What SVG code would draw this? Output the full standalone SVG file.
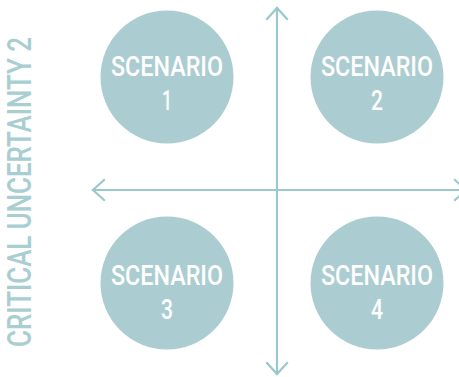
<svg xmlns="http://www.w3.org/2000/svg" width="459" height="377" viewBox="0 0 459 377">
<style>
.c{fill:#abcdd1}
.t{font-family:"Roboto","Liberation Sans",sans-serif;font-size:28px;fill:#ffffff;text-anchor:middle;font-weight:500}
.ax{stroke:#9ac8cc;stroke-width:2.2;fill:none;stroke-linecap:square}
.lab{font-family:"Roboto","Liberation Sans",sans-serif;font-size:33px;fill:#a9ced2;font-weight:500}
</style>
<rect width="459" height="377" fill="#ffffff"/>
<g id="connectors">
<line class="ax" x1="277" y1="8" x2="277" y2="374"/>
<line class="ax" x1="93" y1="190" x2="458" y2="190"/>
<polyline class="ax" points="267,19 277,8 287,19"/>
<polyline class="ax" points="267,363 277,374 287,363"/>
<polyline class="ax" points="104,180 93,190 104,200"/>
<polyline class="ax" points="455,180 466,190 455,200"/>
</g>
<g id="scenario1"><circle class="c" cx="167" cy="77" r="66.5"/><text class="t" x="167" y="76" textLength="112" lengthAdjust="spacingAndGlyphs">SCENARIO</text><text class="t" x="167" y="110" textLength="10" lengthAdjust="spacingAndGlyphs">1</text></g>
<g id="scenario2"><circle class="c" cx="377" cy="77" r="66.5"/><text class="t" x="377" y="76" textLength="112" lengthAdjust="spacingAndGlyphs">SCENARIO</text><text class="t" x="377" y="110" textLength="12" lengthAdjust="spacingAndGlyphs">2</text></g>
<g id="scenario3"><circle class="c" cx="167" cy="283" r="66.5"/><text class="t" x="167" y="285" textLength="112" lengthAdjust="spacingAndGlyphs">SCENARIO</text><text class="t" x="167" y="319" textLength="12" lengthAdjust="spacingAndGlyphs">3</text></g>
<g id="scenario4"><circle class="c" cx="377" cy="283" r="66.5"/><text class="t" x="377" y="285" textLength="112" lengthAdjust="spacingAndGlyphs">SCENARIO</text><text class="t" x="377" y="319" textLength="12" lengthAdjust="spacingAndGlyphs">4</text></g>
<g id="axis-label"><text class="lab" transform="translate(31,347) rotate(-90)" x="0" y="0" textLength="310" lengthAdjust="spacingAndGlyphs">CRITICAL UNCERTAINTY 2</text></g>
</svg>
